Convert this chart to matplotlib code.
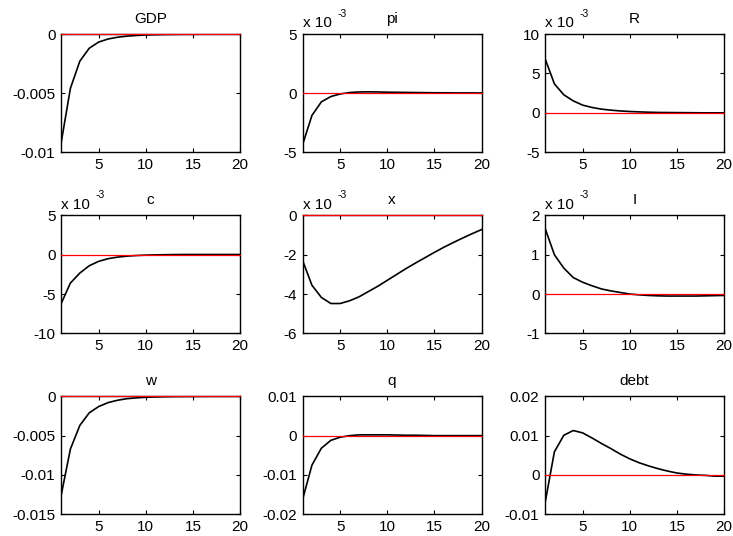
import matplotlib
matplotlib.use('Agg')
import matplotlib.pyplot as plt

plt.rcParams['font.family'] = ['Liberation Sans', 'DejaVu Sans']
plt.rcParams['axes.unicode_minus'] = False

periods = list(range(1, 21))

# impulse responses
gdp = [-0.0093, -0.0046, -0.0023, -0.0012, -0.00068, -0.00042, -0.00027, -0.00018,
       -0.00012, -0.00008, -0.00006, -0.00004, -0.00003, -0.00002, -0.00002,
       -0.00001, -0.00001, -0.00001, 0.0, 0.0]
pi = [-4.4, -1.9, -0.75, -0.3, -0.08, 0.04, 0.09, 0.1, 0.09, 0.07, 0.06, 0.05,
      0.04, 0.03, 0.02, 0.02, 0.01, 0.01, 0.01, 0.0]          # x 1e-3
R = [6.9, 3.66, 2.27, 1.5, 0.96, 0.66, 0.45, 0.32, 0.22, 0.15, 0.1, 0.06,
     0.03, 0.02, 0.01, 0.0, -0.01, -0.02, -0.02, -0.02]        # x 1e-3
c = [-6.25, -3.6, -2.33, -1.4, -0.84, -0.5, -0.3, -0.18, -0.1, -0.05, -0.02,
     0.0, 0.02, 0.03, 0.03, 0.03, 0.03, 0.03, 0.03, 0.03]      # x 1e-3
x = [-2.28, -3.55, -4.17, -4.48, -4.48, -4.34, -4.14, -3.87, -3.6, -3.3, -3.0,
     -2.7, -2.42, -2.15, -1.88, -1.62, -1.38, -1.15, -0.93, -0.72]  # x 1e-3
I = [1.68, 1.0, 0.66, 0.42, 0.3, 0.21, 0.13, 0.08, 0.04, 0.0, -0.02, -0.035,
     -0.045, -0.05, -0.05, -0.05, -0.05, -0.045, -0.04, -0.035]    # x 1e-3
w = [-0.0127, -0.0067, -0.0037, -0.0021, -0.0013, -0.0008, -0.0005, -0.0003,
     -0.0002, -0.00012, -0.00008, -0.00005, -0.00003, -0.00002, -0.00001,
     -0.00001, 0.0, 0.0, 0.0, 0.0]
q = [-0.0163, -0.0075, -0.0032, -0.0012, -0.0004, 0.0, 0.0002, 0.0002, 0.0002,
     0.0002, 0.00015, 0.0001, 0.0001, 0.00005, 0.0, 0.0, 0.0, 0.0, 0.0, 0.0]
debt = [-0.0072, 0.0059, 0.0101, 0.0113, 0.0107, 0.0094, 0.008, 0.0067, 0.0053,
        0.0041, 0.0031, 0.0023, 0.0016, 0.001, 0.0005, 0.0002, 0.0, -0.0001,
        -0.0003, -0.0003]

names = ['GDP', 'pi', 'R', 'c', 'x', 'I', 'w', 'q', 'debt']
series = [gdp, pi, R, c, x, I, w, q, debt]
scaled = [False, True, True, True, True, True, False, False, False]
yticks = [[-0.01, -0.005, 0], [-5, 0, 5], [-5, 0, 5, 10],
          [-10, -5, 0, 5], [-6, -4, -2, 0], [-1, 0, 1, 2],
          [-0.015, -0.01, -0.005, 0], [-0.02, -0.01, 0, 0.01],
          [-0.01, 0, 0.01, 0.02]]
xticks = [5, 10, 15, 20]

fig = plt.figure(figsize=(7.33, 5.36), dpi=100)

lefts = [0.0832, 0.4127, 0.7435]
bottoms = [0.7164, 0.378, 0.0405]
fs = 11

for k in range(9):
    ax = fig.add_axes([lefts[k % 3], bottoms[k // 3], 0.2442, 0.2201])
    ax.plot(periods, series[k], color='black', lw=1.2, zorder=3)
    ax.plot(periods, [0] * len(periods), color='red', lw=0.9, zorder=4,
            clip_on=False)
    ax.set_xlim(1, 20)
    ax.set_ylim(yticks[k][0], yticks[k][-1])
    ax.set_xticks(xticks)
    ax.set_xticklabels([str(t) for t in xticks], fontsize=fs)
    ax.set_yticks(yticks[k])
    ax.set_yticklabels(['%g' % t for t in yticks[k]], fontsize=fs)
    ax.tick_params(direction='in', top=True, right=True, length=3, width=0.8)
    ax.tick_params(axis='x', pad=4)
    ax.tick_params(axis='y', pad=4)
    for s in ax.spines.values():
        s.set_linewidth(1.0)
    ax.set_title(names[k], fontsize=fs, pad=8)
    if scaled[k]:
        ax.text(0.0, 1.03, 'x 10', transform=ax.transAxes, fontsize=fs,
                ha='left', va='bottom')
        ax.annotate('-3', xy=(0, 1), xycoords='axes fraction',
                    xytext=(25, 11), textcoords='offset points', fontsize=7.5,
                    ha='left', va='bottom')

fig.savefig('out.png', dpi=100)
